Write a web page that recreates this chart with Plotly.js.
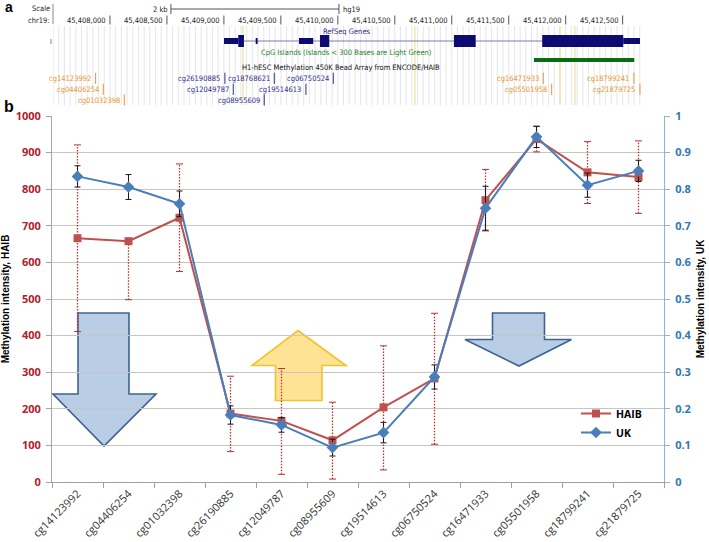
<!DOCTYPE html>
<html>
<head>
<meta charset="utf-8">
<script src="https://cdn.plot.ly/plotly-3.0.1.min.js"></script>
<style>html,body{margin:0;padding:0;background:#fff;}#chart{width:709px;height:542px;}</style>
</head>
<body>
<div id="chart"></div>
<script>
// ---------- Panel b data ----------
const categories = ['cg14123992','cg04406254','cg01032398','cg26190885','cg12049787','cg08955609',
                    'cg19514613','cg06750524','cg16471933','cg05501958','cg18799241','cg21879725'];
const haib         = [666, 658, 722, 187, 167, 114, 204, 283, 770, 937, 846, 833];
const haibErrPlus  = [255,   0, 147, 102, 143, 104, 168, 178,  84,  35,  84,  99];
const haibErrMinus = [255, 160, 147, 104, 146, 106, 171, 180,  84,  35,  85,  99];
const uk           = [0.835, 0.806, 0.760, 0.183, 0.156, 0.094, 0.135, 0.287, 0.748, 0.943, 0.811, 0.850];
const ukErr        = [0.029, 0.034, 0.035, 0.025, 0.020, 0.023, 0.028, 0.033, 0.060, 0.029, 0.033, 0.029];

// ---------- Panel a data (genome browser, chr19, hg19) ----------
const positionTicks = [45408000,45408500,45409000,45409500,45410000,45410500,45411000,45411500,45412000,45412500];
const probeNames = ['cg14123992','cg04406254','cg01032398','cg26190885','cg12049787','cg08955609','cg18768621',
                    'cg19514613','cg06750524','cg16471933','cg05501958','cg18799241','cg21879725'];
const probePos   = [45407874,45407941,45408126,45409009,45409082,45409354,45409442,
                    45409720,45409960,45411803,45411877,45412599,45412652];
const probeRow   = [1,2,3,1,2,3,1,2,1,1,2,1,2];
const probeGroup = ['high','high','high','low','low','low','low','low','low','high','high','high','high'];
const geneStart = 45409001, geneEnd = 45412652;
const exonStart = [45409001,45409126,45409279,45409659,45409843,45411019,45411794,45412505];
const exonEnd   = [45409126,45409176,45409296,45409784,45409925,45411210,45412505,45412652];
const exonCoding= [false,true,false,false,true,true,true,false];
const cpgStart = 45411721, cpgEnd = 45412602;
const scaleBar = [45408535, 45410010];
const highlightBp = [45409167,45410677,45411950,45412081];

// ---------- helpers ----------
const W = 709, H = 542;
const px = x => x / W;
const py = y => 1 - y / H;
const rowY = r => [0, 78.3, 89.3, 100][r];
const groupColor = {high:'#E8962E', low:'#2E2E88'};
const narrow = 'Liberation Sans Narrow, DejaVu Sans Condensed, Liberation Sans, Arial, sans-serif';
const HAIB_COLOR = '#C0504D', UK_COLOR = '#4A7EBB';

// ---------- traces ----------
const errX = [], errY = [], capX = [], capY = [];
categories.forEach((c, i) => {
  errX.push(c, c, null);
  errY.push(haib[i] - haibErrMinus[i], haib[i] + haibErrPlus[i], null);
  capX.push(c, c);
  capY.push(haib[i] - haibErrMinus[i], haib[i] + haibErrPlus[i]);
});

const traces = [
  {x: errX, y: errY, type:'scatter', mode:'lines', xaxis:'x', yaxis:'y',
   line:{color:'#C0302F', width:1.3, dash:'1.5px,1.5px'}, showlegend:false, hoverinfo:'skip', connectgaps:false},
  {x: capX, y: capY, type:'scatter', mode:'markers', xaxis:'x', yaxis:'y',
   marker:{symbol:'line-ew', size:5, line:{width:1, color:'#C0302F'}}, showlegend:false, hoverinfo:'skip'},
  {x: categories, y: haib, name:'HAIB', type:'scatter', mode:'lines+markers', xaxis:'x', yaxis:'y',
   line:{color:HAIB_COLOR, width:2}, marker:{symbol:'square', size:8, color:HAIB_COLOR}},
  {x: categories, y: uk, name:'UK', type:'scatter', mode:'lines+markers', xaxis:'x', yaxis:'y2',
   line:{color:UK_COLOR, width:2}, marker:{symbol:'diamond', size:9, color:UK_COLOR},
   error_y:{type:'data', array: ukErr, visible:true, color:'#1a1a1a', thickness:1, width:3}},
  {x: probePos, y: probeRow.map(rowY), type:'scatter', mode:'markers', xaxis:'x2', yaxis:'y3',
   marker:{symbol:'line-ns', size:8, line:{width:1, color: probeGroup.map(g => groupColor[g])}},
   showlegend:false, hoverinfo:'skip', cliponaxis:false}
];

// ---------- shapes ----------
const shapes = [];
for (let b = 45407500; b <= 45412650; b += 50) {
  shapes.push({type:'line', xref:'x2', yref:'y3', x0:b, x1:b, y0:26, y1:105, layer:'below',
               line:{color:'rgba(205,205,220,0.5)', width:1}});
}
highlightBp.forEach(b => shapes.push({type:'line', xref:'x2', yref:'y3', x0:b, x1:b, y0:26, y1:105, layer:'below',
               line:{color:'rgba(240,230,160,0.9)', width:1.5}}));
positionTicks.forEach(b => shapes.push({type:'line', xref:'x2', yref:'y3', x0:b, x1:b, y0:15.5, y1:24.5,
               line:{color:'#555', width:1}}));
shapes.push({type:'line', xref:'x2', yref:'y3', x0:scaleBar[0], x1:scaleBar[1], y0:9, y1:9, line:{color:'#555', width:1}});
scaleBar.forEach(b => shapes.push({type:'line', xref:'x2', yref:'y3', x0:b, x1:b, y0:4, y1:14, line:{color:'#555', width:1}}));
shapes.push({type:'line', xref:'paper', yref:'paper', x0:px(53), x1:px(53), y0:py(4), y1:py(24), line:{color:'#888', width:1}});
shapes.push({type:'line', xref:'paper', yref:'paper', x0:px(51), x1:px(51), y0:py(39), y1:py(44), line:{color:'#888', width:1}});
shapes.push({type:'line', xref:'x2', yref:'y3', x0:geneStart, x1:geneEnd, y0:41, y1:41, line:{color:'#7A7AA8', width:1}});
exonStart.forEach((s, i) => {
  const h = exonCoding[i] ? 6 : 3;
  shapes.push({type:'rect', xref:'x2', yref:'y3', x0:s, x1:exonEnd[i], y0:41 - h, y1:41 + h,
               fillcolor:'#0B0B72', line:{width:0}});
});
shapes.push({type:'rect', xref:'x2', yref:'y3', x0:cpgStart, x1:cpgEnd, y0:58, y1:62, fillcolor:'#0B6B12', line:{width:0}});

const arrowPath = pts => 'M ' + pts.map(p => px(p[0]).toFixed(5) + ',' + py(p[1]).toFixed(5)).join(' L ') + ' Z';
const arrows = [
  {pts:[[78,313],[129,313],[129,394],[156,394],[104,446],[53,394],[78,394]], fill:'#B9CDE5', line:'#3E6392'},
  {pts:[[298,330.5],[346,365.5],[322,365.5],[322,400.5],[275.5,400.5],[275.5,365.5],[252,365.5]], fill:'#FFE394', line:'#F2C12E'},
  {pts:[[492.5,313],[544.5,313],[544.5,339.5],[571.5,339.5],[519,366],[465,339.5],[492.5,339.5]], fill:'#B9CDE5', line:'#3E6392'}
];
arrows.forEach(a => shapes.push({type:'path', xref:'paper', yref:'paper', path:arrowPath(a.pts),
  fillcolor:a.fill, line:{color:a.line, width:1.6}, layer:'below'}));

// ---------- annotations ----------
const ann = [];
const t = (text, x, y, opts) => Object.assign({text, x, y, showarrow:false}, opts);
ann.push(t('<b>a</b>', px(3), py(7), {xref:'paper', yref:'paper', xanchor:'left', yanchor:'middle',
  font:{family:'Liberation Sans, Arial', size:14, color:'#000'}}));
ann.push(t('<b>b</b>', px(2), py(106), {xref:'paper', yref:'paper', xanchor:'left', yanchor:'middle',
  font:{family:'Liberation Sans, Arial', size:16, color:'#000'}}));
ann.push(t('Scale', px(52), py(9), {xref:'paper', yref:'paper', xanchor:'right', yanchor:'middle',
  font:{family:narrow, size:7.5, color:'#222'}}));
ann.push(t('chr19:', px(52), py(20.5), {xref:'paper', yref:'paper', xanchor:'right', yanchor:'middle',
  font:{family:narrow, size:7.5, color:'#222'}}));
ann.push(t('2 kb', scaleBar[0], 9, {xref:'x2', yref:'y3', xanchor:'right', yanchor:'middle', xshift:-1,
  font:{family:narrow, size:7.5, color:'#222'}}));
ann.push(t('hg19', scaleBar[1], 9, {xref:'x2', yref:'y3', xanchor:'left', yanchor:'middle', xshift:2,
  font:{family:narrow, size:7.5, color:'#222'}}));
positionTicks.forEach(b => ann.push(t(b.toLocaleString('en-US'), b, 20.5, {xref:'x2', yref:'y3',
  xanchor:'right', yanchor:'middle', xshift:-1.5, font:{family:narrow, size:7.5, color:'#222'}})));
ann.push(t('RefSeq Genes', 45410077, 31.5, {xref:'x2', yref:'y3', xanchor:'center', yanchor:'middle',
  font:{family:narrow, size:7.5, color:'#2A2A8A'}}));
ann.push(t('CpG Islands (Islands &lt; 300 Bases are Light Green)', 45410077, 52.3, {xref:'x2', yref:'y3',
  xanchor:'center', yanchor:'middle', font:{family:narrow, size:7.5, color:'#1E7E1E'}}));
ann.push(t('H1-hESC Methylation 450K Bead Array from ENCODE/HAIB', 45410027, 67.7, {xref:'x2', yref:'y3',
  xanchor:'center', yanchor:'middle', font:{family:narrow, size:7.5, color:'#111'}}));
probeNames.forEach((n, i) => ann.push(t(n, probePos[i], rowY(probeRow[i]), {xref:'x2', yref:'y3',
  xanchor:'right', yanchor:'middle', xshift:-2.5, font:{family:narrow, size:7.5, color:groupColor[probeGroup[i]]}})));

// ---------- layout ----------
const tickBold = c => ({family:'Open Sans, Liberation Sans, sans-serif', size:11, color:c, weight:'bold'});
const layout = {
  width: W, height: H,
  margin:{l:0, r:0, t:0, b:0},
  paper_bgcolor:'#ffffff', plot_bgcolor:'rgba(0,0,0,0)',
  showlegend:true,
  xaxis:{domain:[px(52), px(664)], anchor:'y', type:'category', categoryorder:'array', categoryarray:categories,
    range:[-0.5, 11.5], tickson:'boundaries', ticks:'outside', ticklen:5, tickcolor:'#A0A0A0',
    showline:true, linecolor:'#A0A0A0', linewidth:1, showgrid:false, zeroline:false, tickangle:-45,
    tickfont:{family:'Open Sans, Liberation Sans, sans-serif', size:11, color:'#333333'}, automargin:false},
  yaxis:{domain:[1 - 482/H, 1 - 116/H], anchor:'x', range:[0, 1000], dtick:100, tick0:0,
    showgrid:true, gridcolor:'#C6C6C6', gridwidth:1, zeroline:false,
    showline:true, linecolor:'#A6A6A6', ticks:'outside', ticklen:5, tickcolor:'#A6A6A6',
    ticklabelstandoff:3, tickfont:tickBold('#B0202E'), automargin:false,
    title:{text:'Methylation intensity, HAIB', standoff:4,
      font:{family:'Liberation Sans, Arial, sans-serif', size:10, color:'#000', weight:'bold'}}},
  yaxis2:{overlaying:'y', side:'right', anchor:'x', range:[0, 1], dtick:0.1, tick0:0,
    showgrid:false, zeroline:false, showline:true, linecolor:'#8DB6D2', ticks:'outside', ticklen:5,
    tickcolor:'#8DB6D2', ticklabelstandoff:3, tickfont:tickBold('#2E78B4'), automargin:false,
    title:{text:'Methylation intensity, UK', standoff:6,
      font:{family:'Liberation Sans, Arial, sans-serif', size:10, color:'#000', weight:'bold'}}},
  xaxis2:{domain:[px(53), px(641)], anchor:'y3', range:[45407500, 45412661], visible:false, fixedrange:true},
  yaxis3:{domain:[1 - 108/H, 1], anchor:'x2', range:[108, 0], visible:false, fixedrange:true},
  legend:{x:px(576), y:py(399), xanchor:'left', yanchor:'top', bgcolor:'rgba(0,0,0,0)', borderwidth:0,
    font:{family:'Open Sans, Liberation Sans, sans-serif', size:10.5, color:'#000', weight:'bold'}},
  shapes, annotations: ann
};

Plotly.newPlot('chart', traces, layout, {displayModeBar:false, staticPlot:true});
</script>
</body>
</html>
